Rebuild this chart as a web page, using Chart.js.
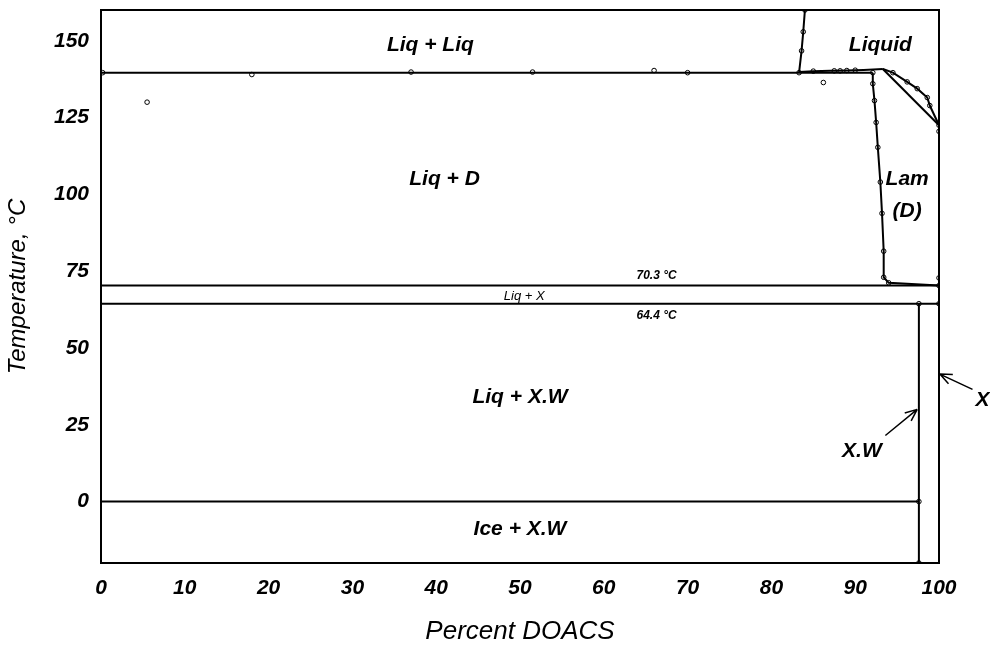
<!DOCTYPE html>
<html>
<head>
<meta charset="utf-8">
<script src="https://cdn.jsdelivr.net/npm/chart.js@4"></script>
<style>
  body { margin: 0; background: #fff; }
  #wrap { width: 990px; height: 647px; }
</style>
</head>
<body>
<div id="wrap"><canvas id="c"></canvas></div>
<script>
// ticks
const tempTicks = [0, 25, 50, 75, 100, 125, 150];

// phase boundaries (Percent DOACS, temperature °C)
const monotecticX = [0, 83.3, 92.1];
const monotecticY = [139.6, 139.6, 139.6];
const gapX = [83.3, 83.6, 83.8, 84.0];
const gapY = [139.6, 146.7, 152.9, 160];
const liqShelfX = [83.3, 85.0, 87.0, 89.0, 91.0, 93.3];
const liqShelfY = [139.8, 140.1, 140.2, 140.3, 140.5, 140.8];
const liquidusX = [93.3, 94.5, 96.2, 97.4, 98.6, 98.9, 100];
const liquidusY = [140.8, 139.6, 136.6, 134.4, 131.5, 128.9, 122.5];
const chordX = [93.3, 100];
const chordY = [140.8, 122.5];
const lamX = [92.1, 92.1, 92.3, 92.5, 92.7, 93.0, 93.2, 93.4, 93.4, 94.0, 100];
const lamY = [139.6, 136.0, 130.5, 123.4, 115.3, 104.0, 93.8, 81.5, 73.0, 71.2, 70.3];
const line703X = [0, 100];
const line703Y = [70.3, 70.3];
const line644X = [0, 100];
const line644Y = [64.4, 64.4];
const iceX = [0, 97.6];
const iceY = [0, 0];
const xwX = [97.6, 97.6, 97.6];
const xwY = [64.4, 0, -20];

// measured points (open circles)
const ptsX = [0.2, 5.5, 18.0, 37.0, 51.5, 66.0, 70.0, 83.3, 83.6, 83.8, 84.0, 85.0, 86.2, 87.5, 88.2, 89.0, 90.0,
  92.1, 92.1, 92.3, 92.5, 92.7, 93.0, 93.2, 93.4, 93.4, 94.0, 94.5, 96.2, 97.4, 98.6, 98.9, 100, 100, 100, 100, 100,
  97.6, 97.6, 97.6];
const ptsY = [139.6, 130.0, 139.0, 139.8, 139.8, 140.3, 139.6, 139.6, 146.7, 152.9, 160, 140.1, 136.4, 140.2, 140.2, 140.3, 140.4,
  139.6, 136.0, 130.5, 123.4, 115.3, 104.0, 93.8, 81.5, 73.0, 71.2, 139.6, 136.6, 134.4, 131.5, 128.9, 122.5, 120.5, 72.8, 70.3, 64.4,
  64.4, 0, -20];

// region labels
const labelText = ['Liq + Liq', 'Liquid', 'Liq + D', 'Lam', '(D)', 'Liq + X.W', 'Ice + X.W', 'X.W', 'X'];
const labelX = [39.3, 93.0, 41.0, 96.2, 96.2, 50.0, 50.0, 90.8, 105.2];
const labelY = [148.6, 148.4, 105.0, 105.0, 94.5, 34.0, -9.0, 16.5, 33.0];
const smallText = ['70.3 °C', 'Liq + X', '64.4 °C'];
const smallX = [66.3, 50.5, 66.3];
const smallY = [73.6, 66.8, 60.4];

// arrows: tail -> tip
const arrowFromX = [93.6, 104.0];
const arrowFromY = [21.5, 36.5];
const arrowToX = [97.4, 100.1];
const arrowToY = [30.0, 41.5];

const pairs = (xs, ys) => xs.map((x, i) => ({x, y: ys[i]}));

const curves = [
  [monotecticX, monotecticY], [gapX, gapY], [liqShelfX, liqShelfY], [liquidusX, liquidusY],
  [chordX, chordY], [lamX, lamY], [line703X, line703Y], [line644X, line644Y], [iceX, iceY], [xwX, xwY]
];

const datasets = curves.map(([xs, ys]) => ({
  data: pairs(xs, ys),
  showLine: true,
  borderColor: '#000',
  borderWidth: 2,
  pointRadius: 0,
  tension: 0
}));
datasets.push({
  data: pairs(ptsX, ptsY),
  showLine: false,
  pointRadius: 2.3,
  pointBorderWidth: 1,
  pointBorderColor: '#000',
  pointBackgroundColor: '#fff'
});

const FONT = '"Liberation Sans", Arial, sans-serif';

const annotate = {
  id: 'annotate',
  afterDatasetsDraw(chart) {
    const {ctx, chartArea: a, scales: {x, y}} = chart;
    ctx.save();
    ctx.strokeStyle = '#000';
    ctx.fillStyle = '#000';
    ctx.lineWidth = 2;
    ctx.strokeRect(a.left, a.top, a.width, a.height);

    ctx.textAlign = 'center';
    ctx.textBaseline = 'middle';
    ctx.font = 'italic bold 21px ' + FONT;
    labelText.forEach((t, i) => ctx.fillText(t, x.getPixelForValue(labelX[i]), y.getPixelForValue(labelY[i])));
    smallText.forEach((t, i) => {
      ctx.font = (i === 1 ? 'italic 13px ' : 'italic bold 12px ') + FONT;
      ctx.fillText(t, x.getPixelForValue(smallX[i]), y.getPixelForValue(smallY[i]));
    });

    ctx.lineWidth = 1.5;
    arrowFromX.forEach((_, i) => {
      const x0 = x.getPixelForValue(arrowFromX[i]), y0 = y.getPixelForValue(arrowFromY[i]);
      const x1 = x.getPixelForValue(arrowToX[i]), y1 = y.getPixelForValue(arrowToY[i]);
      const ang = Math.atan2(y1 - y0, x1 - x0);
      ctx.beginPath();
      ctx.moveTo(x0, y0);
      ctx.lineTo(x1, y1);
      [0.4, -0.4].forEach(d => {
        ctx.moveTo(x1, y1);
        ctx.lineTo(x1 - 13 * Math.cos(ang + d), y1 - 13 * Math.sin(ang + d));
      });
      ctx.stroke();
    });
    ctx.restore();
  }
};

new Chart(document.getElementById('c'), {
  type: 'scatter',
  data: {datasets},
  options: {
    responsive: true,
    maintainAspectRatio: false,
    animation: false,
    layout: {padding: {top: 10, right: 51, left: 0, bottom: 0}},
    plugins: {legend: {display: false}, tooltip: {enabled: false}},
    scales: {
      x: {
        type: 'linear',
        min: 0,
        max: 100,
        afterFit: s => { s.height = 84; s.paddingLeft = 0; s.paddingRight = 0; },
        grid: {display: false, drawTicks: false},
        border: {display: false},
        ticks: {
          stepSize: 10,
          padding: 13,
          color: '#000',
          font: {family: FONT, size: 21, style: 'italic', weight: 'bold'}
        },
        title: {
          display: true,
          text: 'Percent DOACS',
          color: '#000',
          padding: 0,
          font: {family: FONT, size: 26, style: 'italic'}
        }
      },
      y: {
        type: 'linear',
        min: -20,
        max: 160,
        afterFit: s => { s.width = 101; s.paddingTop = 0; s.paddingBottom = 0; },
        afterBuildTicks: s => { s.ticks = tempTicks.map(v => ({value: v})); },
        grid: {display: false, drawTicks: false},
        border: {display: false},
        ticks: {
          padding: 12,
          color: '#000',
          font: {family: FONT, size: 21, style: 'italic', weight: 'bold'}
        },
        title: {
          display: true,
          text: 'Temperature, °C',
          color: '#000',
          padding: {top: 4, bottom: 0},
          font: {family: '"Liberation Sans Narrow", ' + FONT, size: 24, style: 'italic'}
        }
      }
    }
  },
  plugins: [annotate]
});
</script>
</body>
</html>
